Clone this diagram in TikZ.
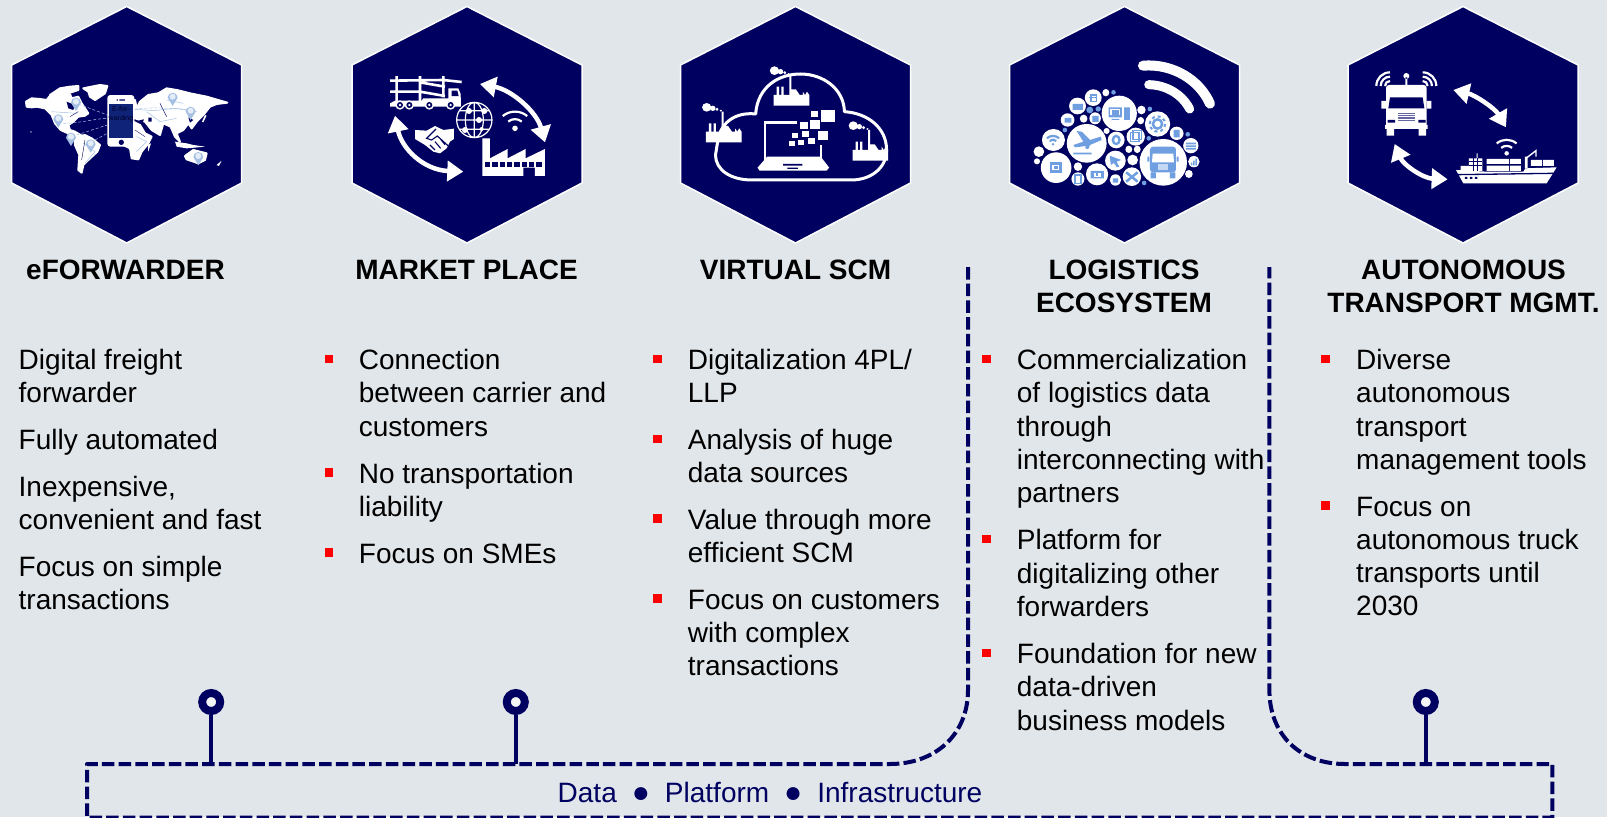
\documentclass[tikz,border=0pt]{standalone}
\usepackage{fontspec}
\setmainfont{Liberation Sans}
\usetikzlibrary{arrows.meta}
\definecolor{bgc}{HTML}{E1E6EA}
\definecolor{navy}{HTML}{000060}
\definecolor{redb}{HTML}{FF0000}
\definecolor{pale}{HTML}{A6C0E4}
\definecolor{midb}{HTML}{6F9FE0}
\definecolor{scr}{HTML}{0F2478}
\tikzset{
 hexa/.style={fill=navy,draw=white,line width=1.5pt,line join=miter},
 titlet/.style={font=\fontsize{28}{33}\selectfont\bfseries,align=center,anchor=north,inner sep=0pt,text=black},
 bodyt/.style={font=\fontsize{28}{33.3}\selectfont,align=left,anchor=north west,inner sep=0pt,text=black},
 bul/.style={fill=redb,draw=none,minimum size=8.5pt,inner sep=0pt,rectangle},
 bus/.style={draw=navy,line width=4pt,dash pattern=on 12.5pt off 4.2pt},
 pinhead/.style={circle,draw=navy,line width=8pt,fill=white!55!bgc,minimum size=18pt,inner sep=0pt},
 stem/.style={draw=navy,line width=3.6pt},
 zw/.style={x=0.3827pt,y=-0.3333pt},
 zt/.style={x=0.3333pt,y=-0.3333pt},
 land/.style={fill=white,draw=white,line width=2pt,line join=round},
 cyc/.style={draw=white,line width=4.5pt,{Triangle[length=16pt,width=20pt]}-{Triangle[length=16pt,width=20pt]}},
}
\newcommand\hexat[2]{\node[inner sep=0pt,minimum size=0pt] (#2) at (#1,124.5) {};
 \draw[hexa] (#1,6.5) -- ({#1+115},65) -- ({#1+115},183) -- (#1,243) -- ({#1-115},183) -- ({#1-115},65) -- cycle;}
\newcommand\itemb[5]{\node[bul] (b#1) at (#2,{#4*1.0249-0.9}) {};
 \node[bodyt] (#1) at (#3,{#4*1.0249+9.5-23.3}) {\strut #5};}
\newcommand\itemp[4]{\node[bodyt] (#1) at (#2,{#3*1.0249+9.5-23.3}) {\strut #4};}
\newcommand\wifig[4][white]{\fill[#1] (#2,#3) ellipse[x radius={0.16*#4},y radius={0.16*#4}];
 \foreach \rr in {0.55,1.0}{\draw[#1,line width=2.2pt]
 ({#2-.707*\rr*#4},{#3-.707*\rr*#4}) .. controls ({#2-.3*\rr*#4},{#3-1.05*\rr*#4}) and ({#2+.3*\rr*#4},{#3-1.05*\rr*#4}) .. ({#2+.707*\rr*#4},{#3-.707*\rr*#4});}}
\newcommand\mappin[2]{\fill[pale] (#1,{#2+28}) -- ({#1-15},{#2+3}) arc[start angle=180,end angle=360,radius=15] -- cycle;
 \fill[white!70!pale] (#1,#2) ellipse[x radius=9,y radius=9];}
\newcommand\plantg[2]{\fill[white] (#1,{#2+57}) -- (#1,{#2+25}) -- ({#1+8},{#2+25}) -- ({#1+8},{#2}) -- ({#1+14},{#2}) -- ({#1+14},{#2+25}) -- ({#1+20},{#2+25}) -- ({#1+20},{#2}) -- ({#1+26},{#2}) -- ({#1+26},{#2+25}) -- ({#1+41},{#2+25}) -- ({#1+41},{#2-35}) -- ({#1+46},{#2-35}) -- ({#1+46},{#2+8}) -- ({#1+58},{#2+8}) -- ({#1+68},{#2+25}) -- ({#1+76},{#2+25}) -- ({#1+76},{#2+15}) -- ({#1+82},{#2+25}) -- ({#1+87},{#2+15}) -- ({#1+93},{#2+25}) -- ({#1+93},{#2+57}) -- cycle;
 \fill[white] ({#1+2},{#2-48}) ellipse[x radius=12,y radius=13] ({#1+18},{#2-45}) ellipse[x radius=7,y radius=8] ({#1+29},{#2-42}) ellipse[x radius=4,y radius=5] ({#1+39},{#2-38}) ellipse[x radius=3,y radius=3];}
\begin{document}
\begin{tikzpicture}[x=1pt,y=-1pt]
\useasboundingbox (0,0) rectangle (1607,817);
\clip (0,0) rectangle (1607,817);
\fill[bgc] (0,0) rectangle (1607,817);
\hexat{126.7}{h1}\hexat{467}{h2}\hexat{795.5}{h3}\hexat{1124.5}{h4}\hexat{1463}{h5}

% ---------- icon 1: world map
\begin{scope}[shift={(20pt,-80pt)},zt]
\path[land] (18,65) -- (35,55) -- (60,57) -- (80,60) -- (92,45) -- (110,40) -- (125,45) -- (150,42) -- (155,55) -- (175,50) -- (185,70) -- (205,100) -- (195,107) -- (175,110) -- (160,125) -- (145,135) -- (150,150) -- (165,155) -- (190,170) -- (185,176) -- (158,165) -- (140,158) -- (122,150) -- (105,130) -- (95,105) -- (75,85) -- (50,80) -- (35,82) -- (20,80) -- cycle;
\path[land] (190,25) -- (240,15) -- (262,18) -- (255,40) -- (225,60) -- (210,50) -- (205,35) -- cycle;
\path[land] (90,45) -- (120,25) -- (150,20) -- (175,18) -- (175,30) -- (150,38) -- (120,42) -- cycle;
\path[land] (165,172) -- (195,165) -- (215,175) -- (240,195) -- (232,215) -- (205,240) -- (190,255) -- (185,278) -- (175,270) -- (178,225) -- (165,195) -- cycle;
\path[land] (270,130) -- (340,125) -- (360,135) -- (375,160) -- (395,170) -- (385,190) -- (365,215) -- (355,238) -- (335,235) -- (330,205) -- (300,190) -- (270,170) -- cycle;
\path[land] (270,60) -- (345,60) -- (350,85) -- (360,65) -- (385,45) -- (415,40) -- (440,25) -- (470,30) -- (510,40) -- (560,50) -- (622,68) -- (590,72) -- (570,80) -- (550,105) -- (530,125) -- (515,145) -- (505,130) -- (490,150) -- (470,160) -- (480,185) -- (465,170) -- (452,140) -- (430,130) -- (420,165) -- (395,150) -- (375,125) -- (345,115) -- (270,115) -- cycle;
\fill[white] (465,185) -- (500,190) -- (520,195) -- (555,200) -- (500,205) -- (470,200) -- cycle (590,255) -- (605,242) -- (597,258) -- cycle (383,195) -- (393,190) -- (385,215) -- cycle (555,105) -- (560,107) -- (550,127) -- (546,125) -- cycle (385,50) -- (415,38) -- (395,55) -- cycle (30,155) -- (36,155) -- (33,158) -- cycle;
\path[land] (495,228) -- (520,210) -- (560,220) -- (555,240) -- (535,250) -- (500,238) -- cycle;
\fill[navy] (385,113) rectangle (395,125) (355,122) -- (372,118) -- (368,128) -- cycle (505,112) -- (520,120) -- (510,128) -- cycle;
\fill[navy] (140,65) -- (165,75) -- (160,90) -- (145,85) -- cycle;
\draw[pale,line width=.5pt] (345,88) -- (400,92) -- (470,85) -- (530,95) (380,95) -- (420,125) -- (470,115) (350,170) -- (380,185) -- (350,215) (190,190) -- (225,215) -- (195,250) (95,95) -- (170,100) (440,60) -- (490,70);
\draw[navy,line width=.4pt] (345,150) -- (375,170) (420,70) -- (440,110) (150,110) -- (175,95) (195,180) -- (185,240);
\draw[pale,densely dashed,line width=.5pt] (175,72) -- (262,105) (130,130) .. controls (180,130) and (230,115) .. (262,115) (170,165) -- (262,135) (225,180) -- (262,160) (343,88) .. controls (400,80) and (460,85) .. (505,90);
\foreach \pa/\pb in {168/65,115/115,153/170,212/190,458/50,512/92,535/228}{\mappin{\pa}{\pb}}
\fill[white,rounded corners=3pt] (262,45) rectangle (343,200);
\fill[scr] (267,72) rectangle (340,175);
\fill[navy] (304,187) ellipse[x radius=8,y radius=8];
\fill[navy] (290,58) rectangle (294,62) (298,58) rectangle (315,62);
\node[font=\fontsize{7}{8.5}\selectfont,align=center,inner sep=0pt,text=black!60!navy] (phonet) at (303,102) {E-for-\\warding};
\end{scope}

% ---------- icon 2: market place
\begin{scope}[shift={(380pt,-70pt)},zt]
\draw[white,line width=2.6pt] (30,32) -- (190,30) -- (245,36) (30,65) -- (120,65) -- (195,78) (50,18) -- (50,95) (120,18) -- (120,95) (190,18) -- (190,82) (125,38) -- (195,50);
\fill[white] (205,55) -- (235,55) -- (242,72) -- (243,110) -- (30,110) -- (30,100) -- (45,92) -- (125,92) -- (130,85) -- (205,85) -- cycle;
\fill[navy] (215,62) -- (232,62) -- (236,78) -- (215,78) -- cycle;
\foreach \pa in {60,88,148,212}{\fill[white] (\pa,105) ellipse[x radius=14,y radius=14];\fill[navy] (\pa,105) ellipse[x radius=9,y radius=9];\fill[white] (\pa,105) ellipse[x radius=4,y radius=4];}
\draw[white,line width=1.2pt] (283,150) ellipse[x radius=53,y radius=53] (283,150) ellipse[x radius=27,y radius=53] (283,97) -- (283,203) (230,150) -- (336,150) (238,122) -- (328,122) (238,178) -- (328,178);
\fill[white] (267,123) ellipse[x radius=9,y radius=9] (313,123) ellipse[x radius=9,y radius=9] (297,150) ellipse[x radius=9,y radius=9] (255,180) ellipse[x radius=9,y radius=9] (305,177) ellipse[x radius=6,y radius=6];
\wifig{405}{175}{52}
\draw[cyc] (300,42) .. controls (395,60) and (470,125) .. (495,217);
\draw[cyc] (45,137) .. controls (65,235) and (130,300) .. (250,305);
\fill[white] (105,180) -- (140,182) -- (165,168) -- (190,180) -- (222,176) -- (222,207) -- (210,215) -- (200,235) -- (180,250) -- (160,245) -- (135,225) -- (105,207) -- cycle;
\draw[navy,line width=1.1pt] (168,177) -- (140,205) -- (155,210) -- (172,198) -- (205,228) (150,225) -- (165,240) (165,215) -- (182,235) (182,208) -- (195,224);
\fill[white] (307,205) -- (330,205) -- (330,265) -- (383,237) -- (383,265) -- (437,237) -- (437,265) -- (495,237) -- (495,318) -- (465,318) -- (465,293) -- (430,293) -- (430,318) -- (307,318) -- cycle;
\foreach \pa in {315,337,359,381,403,425,447,469}{\fill[navy] (\pa,277) rectangle ({\pa+16},290);}
\end{scope}

% ---------- icon 3: virtual SCM
\begin{scope}[shift={(660pt,0pt)},zw]
\draw[white,line width=3pt,line join=round] (150,430) .. controls (155,370) and (195,335) .. (250,342) .. controls (255,260) and (310,222) .. (367,222) .. controls (425,222) and (480,265) .. (482,335) .. controls (545,340) and (592,385) .. (592,450) .. controls (592,505) and (550,540) .. (500,540) -- (240,540) .. controls (185,540) and (145,510) .. (145,465) -- cycle;
\plantg{297}{260}
\plantg{120}{370}
\plantg{503}{425}
\draw[white,line width=2.4pt] (358,367) -- (275,367) -- (275,480) (420,435) -- (420,480);
\fill[white] (280,470) -- (420,470) -- (442,503) -- (435,512) -- (260,512) -- (255,503) -- cycle;
\fill[navy] (322,492) rectangle (372,497) (333,503) rectangle (360,507);
\foreach \pa/\pb/\ps in {395/333/18,421/330/36,366/366/20,391/360/26,345/399/16,372/393/17,412/392/28,387/414/18,361/420/15,337/423/16}{\fill[white] (\pa,\pb) rectangle ({\pa+\ps},{\pb+\ps});}
\end{scope}

% ---------- icon 4: ecosystem
\begin{scope}[shift={(660pt,0pt)},zw]
\draw[white,line width=10pt,line cap=round] (1262,197) .. controls (1340,190) and (1410,240) .. (1437,311);
\draw[white,line width=9pt,line cap=round] (1277,254) .. controls (1325,255) and (1365,285) .. (1384,327);
\foreach \pa/\pb/\pc/\pd in {1115/430/52/58,1315/487/62/70,1035/503/40/46,1200/340/46/53,1028/420/30/33,1300/372/33/38,1132/293/22/25,1091/318/22/25,1065/360/18/20,1137/355/15/18,1192/420/22/25,1243/410/24/27,1190/482/27/30,1142/523/29/33,1233/530/24/28,1092/537/17/20,1190/540/15/17,1350/400/18/20,1387/437/20/23,1395/485/15/17,1382/522/10/12,990/455/14/16,985/484/8/9,1092/500/11/13,1107/356/10/12,1165/278/9/11,1258/330/11/13,1256/362/9/11,1235/480/14/16,1225/448/9/11,1247/448/9/11,1167/393/8/9}{\fill[white] (\pa,\pb) ellipse[x radius=\pc,y radius=\pd];}
\foreach \pa/\pb/\pc/\pd in {1185/277/6/7,1123/330/9/10,1145/327/7/8,1280/327/6/7,1058/390/6/7,1277/415/6/7,1379/403/6/7,1265/549/6/7}{\fill[midb] (\pa,\pb) ellipse[x radius=\pc,y radius=\pd];}
\fill[midb] (1018,487) rectangle (1050,518);\fill[white] (1025,494) rectangle (1043,511);\fill[midb] (1029,498) rectangle (1039,507);
\fill[midb] (1172,322) rectangle (1207,352) (1180,357) rectangle (1200,360) (1213,322) rectangle (1228,360);
\fill[white] (1177,327) rectangle (1202,346);\fill[midb] (1180,330) rectangle (1200,344);
\draw[midb,line width=2.5pt] (1300,372) ellipse[x radius=12,y radius=14];\draw[midb,line width=2pt,dashed] (1300,372) ellipse[x radius=20,y radius=23];
\draw[midb,line width=1.5pt] (1126,285) rectangle (1140,305) (1122,292) -- (1142,292);
\fill[midb] (1078,312) rectangle (1105,330) (1057,354) rectangle (1075,368) (1130,348) rectangle (1146,366) (1125,513) rectangle (1160,535);
\fill[white] (1133,518) rectangle (1152,530);\fill[midb] (1140,520) rectangle (1145,528);
\draw[midb,line width=1.5pt] (1230,398) rectangle (1252,425) (1236,392) rectangle (1258,418);
\fill[midb] (1192,420) ellipse[x radius=12,y radius=16];\fill[white] (1192,420) ellipse[x radius=5,y radius=8];
\fill[midb] (1175,467) -- (1205,480) -- (1193,485) -- (1200,500) -- (1194,502) -- (1186,489) -- (1178,495) -- cycle;
\draw[midb,line width=2.5pt] (1218,517) -- (1248,545) (1248,517) -- (1218,545);
\draw[midb,line width=1.5pt] (1084,525) rectangle (1100,550);
\fill[midb] (1183,535) rectangle (1197,548) (1342,390) rectangle (1358,412);
\fill[midb] (1374,428) rectangle (1400,433) (1374,436) rectangle (1400,441) (1374,444) rectangle (1400,449);
\fill[midb] (1387,488) rectangle (1391,496) (1393,482) rectangle (1397,496) (1399,476) rectangle (1403,496);
\end{scope}
\begin{scope}[shift={(1030pt,-85pt)},zt]
\fill[midb] (140,138) -- (155,140) -- (180,165) -- (212,155) -- (215,165) -- (180,180) -- (175,192) -- (165,190) -- (168,183) -- (135,187) -- (130,180) -- (160,170) -- cycle (130,203) rectangle (185,208);
\wifig[midb]{69}{178}{26}
\fill[midb,rounded corners=3pt] (360,185) rectangle (438,262);
\fill[white] (368,206) -- (430,206) -- (432,232) -- (366,232) -- cycle;
\fill[white!60!midb] (383,238) rectangle (413,254);
\fill[midb] (352,215) rectangle (358,230) (440,215) rectangle (446,230) (362,262) rectangle (378,280) (420,262) rectangle (436,280);
\end{scope}

% ---------- icon 5: autonomous truck
\begin{scope}[shift={(1320pt,0pt)},zt]
\fill[white,rounded corners=3pt] (198,255) rectangle (320,385);
\fill[white] (195,375) rectangle (323,387) (200,385) rectangle (222,407) (296,385) rectangle (318,407) (184,303) rectangle (198,326) (320,303) rectangle (334,326);
\fill[navy] (210,292) -- (308,292) -- (313,325) -- (205,325) -- cycle (203,360) rectangle (225,368) (295,360) rectangle (317,368);
\foreach \pa in {340,345,350,355,360}{\fill[navy!60!white] (233,\pa) rectangle (285,{\pa+2.5});}
\fill[white] (259,228) ellipse[x radius=9,y radius=9] (256,232) rectangle (262,256);
\foreach \rr in {15,28,41}{\draw[white,line width=2.2pt] (210,{258-\rr}) arc[start angle=-90,end angle=-180,radius=\rr];
 \draw[white,line width=2.2pt] (308,{258-\rr}) arc[start angle=-90,end angle=0,radius=\rr];}
\draw[cyc] (400,270) .. controls (465,285) and (525,325) .. (558,382);
\draw[cyc] (224,432) .. controls (250,495) and (310,535) .. (383,538);
\fill[white] (408,510) -- (500,515) -- (610,515) -- (616,505) -- (710,502) -- (680,550) -- (430,550) -- cycle;
\draw[navy,line width=1.3pt] (412,524) -- (700,520);
\fill[navy] (435,531) rectangle (442,537) (450,531) rectangle (457,537) (465,531) rectangle (472,537);
\fill[white] (447,475) rectangle (487,513) (422,498) rectangle (447,513) (470,460) rectangle (473,475);
\fill[white] (500,477) rectangle (567,492) (570,477) rectangle (603,492) (500,497) rectangle (567,513) (570,497) rectangle (603,513) (633,480) rectangle (666,498) (669,480) rectangle (702,498) (615,470) rectangle (623,505);
\draw[white,line width=1.4pt] (618,475) -- (648,452) -- (648,470);
\draw[navy,line width=.8pt] (447,485) -- (487,485) (447,495) -- (487,495) (460,475) -- (460,513) (472,475) -- (472,513);
\wifig{560}{460}{42}
\end{scope}

% ---------- titles
\node[titlet] (t1) at (125.5,256.5) {\strut eFORWARDER};
\node[titlet] (t2) at (466.5,256.5) {\strut MARKET PLACE};
\node[titlet] (t3) at (795.5,256.5) {\strut VIRTUAL SCM};
\node[titlet] (t4) at (1124,256.5) {\strut LOGISTICS\\ECOSYSTEM};
\node[titlet] (t5) at (1463.5,256.5) {\strut AUTONOMOUS\\TRANSPORT MGMT.};

% ---------- column texts
\itemp{a1}{18.5}{351}{Digital freight\\forwarder}
\itemp{a2}{18.5}{429}{Fully automated}
\itemp{a3}{18.5}{475}{Inexpensive,\\convenient and fast}
\itemp{a4}{18.5}{553}{Focus on simple\\transactions}
\itemb{c1}{329}{358.7}{351}{Connection\\between carrier and\\customers}
\itemb{c2}{329}{358.7}{462}{No transportation\\liability}
\itemb{c3}{329}{358.7}{540}{Focus on SMEs}
\itemb{d1}{657.5}{687.7}{351}{Digitalization 4PL/\\LLP}
\itemb{d2}{657.5}{687.7}{429}{Analysis of huge\\data sources}
\itemb{d3}{657.5}{687.7}{507}{Value through more\\efficient SCM}
\itemb{d4}{657.5}{687.7}{585}{Focus on customers\\with complex\\transactions}
\itemb{e1}{986.5}{1016.7}{351}{Commercialization\\of logistics data\\through\\interconnecting with\\partners}
\itemb{e2}{986.5}{1016.7}{527}{Platform for\\digitalizing other\\forwarders}
\itemb{e3}{986.5}{1016.7}{638}{Foundation for new\\data-driven\\business models}
\itemb{f1}{1325.5}{1356}{351}{Diverse\\autonomous\\transport\\management tools}
\itemb{f2}{1325.5}{1356}{494}{Focus on\\autonomous truck\\transports until\\2030}

% ---------- platform bar
\coordinate (s1) at (968,267);
\coordinate (s2) at (1269.4,267);
\coordinate (q1) at (211.2,764);
\coordinate (q2) at (515.8,764);
\coordinate (q3) at (1425.8,764);
\draw[bus,line join=round] (s1) -- (968,690) .. controls (968,735) and (935,764) .. (890,764) -- (87,764) -- (87,817.5) -- (1552.4,817.5) -- (1552.4,764) -- (1345,764) .. controls (1300,764) and (1269.4,735) .. (1269.4,690) -- (s2);
\node[pinhead] (p1) at (211.2,702) {};
\node[pinhead] (p2) at (515.8,702) {};
\node[pinhead] (p3) at (1425.8,702) {};
\draw[stem] (p1) -- (q1);
\draw[stem] (p2) -- (q2);
\draw[stem] (p3) -- (q3);
\node[font=\fontsize{28}{33}\selectfont,text=navy,inner sep=0pt,anchor=base] (bar) at (770,802) {Data\hspace{15pt}{\fontsize{30}{33}\selectfont ●}\hspace{15pt}Platform\hspace{15pt}{\fontsize{30}{33}\selectfont ●}\hspace{15pt}Infrastructure};
\end{tikzpicture}
\end{document}
